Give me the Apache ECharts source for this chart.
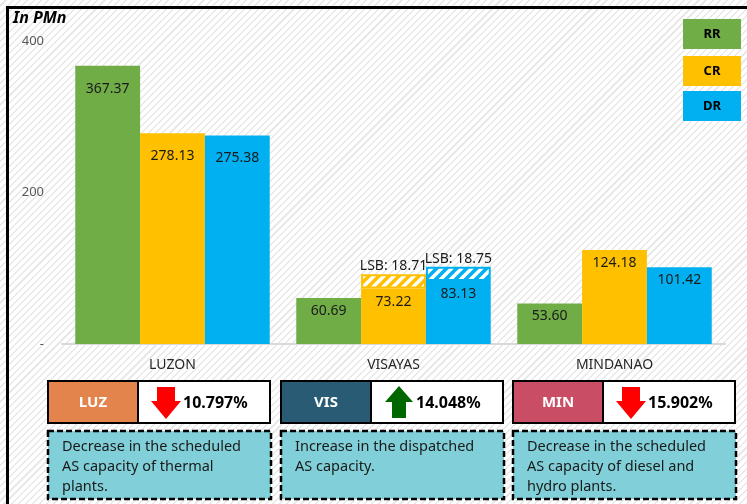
<!DOCTYPE html>
<html>
<head>
<meta charset="utf-8">
<script src="https://cdn.jsdelivr.net/npm/echarts@6/dist/echarts.min.js"></script>
<style>
  html, body { margin: 0; padding: 0; }
  #chart {
    width: 747px;
    height: 504px;
    background: repeating-linear-gradient(135deg, #ffffff 0px, #ffffff 3.5px, #e9e9e9 3.5px, #e9e9e9 5px);
  }
</style>
</head>
<body>
<div id="chart"></div>
<script>
// chart values
const categories = ["LUZON", "VISAYAS", "MINDANAO"];
const rrValues = [367.37, 60.69, 53.6];
const crValues = [278.13, 73.22, 124.18];
const drValues = [275.38, 83.13, 101.42];
const crLsb = [null, 18.71, null];
const drLsb = [null, 18.75, null];
const yTicks = [0, 200, 400];

// summary panels under the chart
const panelNames = ["LUZ", "VIS", "MIN"];
const panelChange = ["10.797%", "14.048%", "15.902%"];
const panelUp = [false, true, false];
const panelNotes = [
  ["Decrease in the scheduled", "AS capacity of thermal", "plants."],
  ["Increase in the dispatched", "AS capacity."],
  ["Decrease in the scheduled", "AS capacity of diesel and", "hydro plants."]
];

const FONT = "Noto Sans";
const GREEN = "#70AD47", YELLOW = "#FFC000", BLUE = "#00B0F0";

function hatch(color) {
  const c = document.createElement("canvas");
  c.width = 10; c.height = 10;
  const ctx = c.getContext("2d");
  ctx.fillStyle = color;
  ctx.fillRect(0, 0, 10, 10);
  ctx.strokeStyle = "#ffffff";
  ctx.lineWidth = 3.5;
  ctx.beginPath();
  ctx.moveTo(-5, 5); ctx.lineTo(5, -5);
  ctx.moveTo(0, 10); ctx.lineTo(10, 0);
  ctx.moveTo(5, 15); ctx.lineTo(15, 5);
  ctx.stroke();
  return { image: c, repeat: "repeat" };
}

function withLabel(values) {
  return values.map(v => ({ value: v, label: { distance: v > 200 ? 16 : 6 } }));
}

const valueLabel = {
  show: true,
  position: "insideTop",
  color: "#1a1a1a",
  fontFamily: FONT,
  fontSize: 14,
  formatter: p => p.value.toFixed(2)
};

const lsbLabel = {
  show: true,
  position: "top",
  distance: 1,
  color: "#1a1a1a",
  fontFamily: FONT,
  fontSize: 14,
  formatter: p => "LSB: " + p.value
};

// graphics: frame, unit, legend boxes, panels
const graphics = [
  { type: "polyline", shape: { points: [[7.5, 504], [7.5, 7.5], [747, 7.5]] },
    style: { stroke: "#000", lineWidth: 3, fill: null } },
  { type: "text", left: 13, top: 10,
    style: { text: "In PMn", font: "italic bold 16px '" + FONT + "'", fill: "#000" } }
];

[["RR", GREEN, 19], ["CR", YELLOW, 56], ["DR", BLUE, 91]].forEach(([name, col, y]) => {
  graphics.push({ type: "rect", shape: { x: 683, y: y, width: 58, height: 30 }, style: { fill: col } });
  graphics.push({ type: "text", x: 712, y: y + 15,
    style: { text: name, font: "bold 13px '" + FONT + "'", fill: "#000", align: "center", verticalAlign: "middle" } });
});

const panelX = [48, 281, 513];
const panelColors = ["#E2844B", "#2A5B74", "#C94E65"];
panelNames.forEach((name, i) => {
  const x = panelX[i];
  const split = x + 90;
  const w = 222;
  graphics.push({ type: "rect", shape: { x: x, y: 381, width: 90, height: 42 }, style: { fill: panelColors[i] } });
  graphics.push({ type: "rect", shape: { x: split, y: 381, width: w - 90, height: 42 }, style: { fill: "#fff" } });
  graphics.push({ type: "rect", shape: { x: x, y: 381, width: w, height: 42 }, style: { fill: null, stroke: "#000", lineWidth: 2 } });
  graphics.push({ type: "line", shape: { x1: split, y1: 381, x2: split, y2: 423 }, style: { stroke: "#000", lineWidth: 2 } });
  graphics.push({ type: "text", x: x + 45, y: 403,
    style: { text: name, font: "bold 15px '" + FONT + "'", fill: "#fff", align: "center", verticalAlign: "middle" } });
  const cx = split + 28;
  const pts = panelUp[i]
    ? [[cx, 386], [cx + 14, 402], [cx + 7, 402], [cx + 7, 418], [cx - 7, 418], [cx - 7, 402], [cx - 14, 402]]
    : [[cx - 9, 387], [cx + 9, 387], [cx + 9, 401], [cx + 15, 401], [cx, 419], [cx - 15, 401], [cx - 9, 401]];
  graphics.push({ type: "polygon", shape: { points: pts }, style: { fill: panelUp[i] ? "#006600" : "#FF0000" } });
  graphics.push({ type: "text", x: split + 45, y: 403,
    style: { text: panelChange[i], font: "bold 16px '" + FONT + "'", fill: "#000", verticalAlign: "middle" } });
  graphics.push({ type: "rect", shape: { x: x, y: 431, width: w + 1, height: 68 },
    style: { fill: "#81D0D9", stroke: "#000", lineWidth: 2.5, lineDash: [6, 3] } });
  panelNotes[i].forEach((line, k) => {
    graphics.push({ type: "text", x: x + 14, y: 447 + k * 20,
      style: { text: line, font: "14.5px '" + FONT + "'", fill: "#1a1a1a", verticalAlign: "middle" } });
  });
});

const chart = echarts.init(document.getElementById("chart"));
chart.setOption({
  backgroundColor: "transparent",
  animation: false,
  grid: { left: 62, right: 22, top: 41, bottom: 160 },
  xAxis: {
    type: "category",
    data: categories,
    axisLine: { lineStyle: { color: "#d9d9d9", width: 2 } },
    axisTick: { show: false },
    axisLabel: { color: "#262626", fontFamily: FONT, fontSize: 14, margin: 14 }
  },
  yAxis: {
    type: "value",
    min: yTicks[0],
    max: yTicks[yTicks.length - 1],
    interval: 200,
    splitLine: { show: false },
    axisLabel: {
      color: "#595959", fontFamily: FONT, fontSize: 13, margin: 18,
      formatter: v => (v === 0 ? "-" : v)
    }
  },
  series: [
    { name: "RR", type: "bar", stack: "rr", data: withLabel(rrValues), itemStyle: { color: GREEN },
      barGap: "0%", barCategoryGap: "12%", label: valueLabel },
    { name: "CR", type: "bar", stack: "cr", data: withLabel(crValues), itemStyle: { color: YELLOW },
      label: valueLabel },
    { name: "CR LSB", type: "bar", stack: "cr", data: crLsb,
      itemStyle: { color: hatch(YELLOW), borderColor: YELLOW, borderWidth: 2 }, label: lsbLabel },
    { name: "DR", type: "bar", stack: "dr", data: withLabel(drValues), itemStyle: { color: BLUE },
      label: valueLabel },
    { name: "DR LSB", type: "bar", stack: "dr", data: drLsb,
      itemStyle: { color: hatch(BLUE), borderColor: BLUE, borderWidth: 2 }, label: lsbLabel }
  ],
  graphic: graphics
});
</script>
</body>
</html>
